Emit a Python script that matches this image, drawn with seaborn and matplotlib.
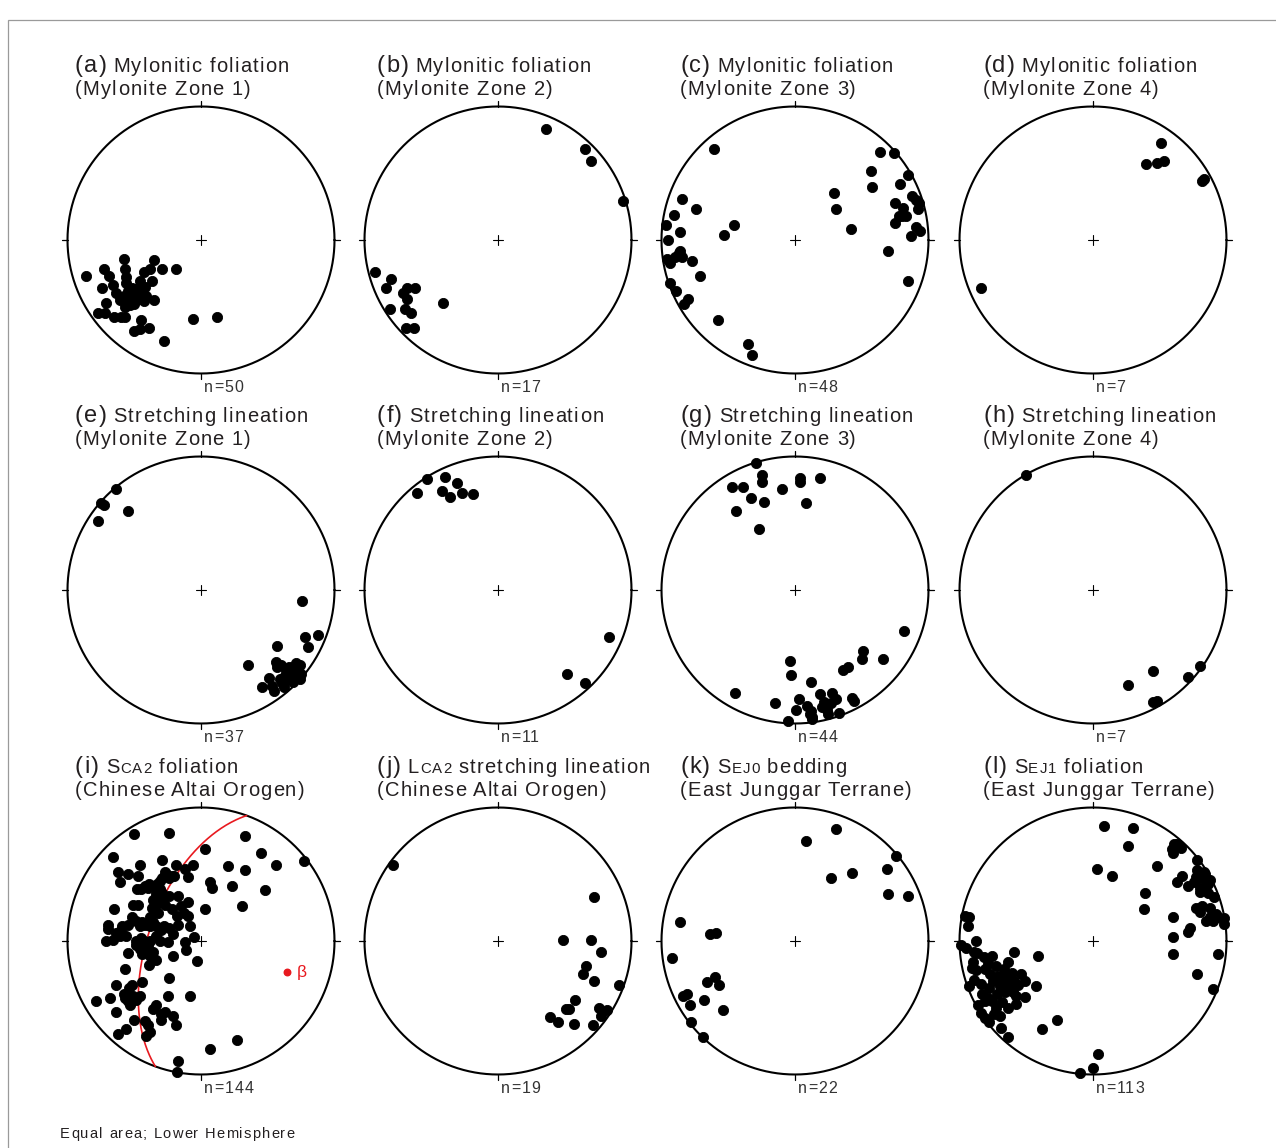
import numpy as np
import matplotlib
matplotlib.use("Agg")
import matplotlib.pyplot as plt
from matplotlib.patches import Rectangle
from matplotlib.font_manager import FontProperties
import seaborn as sns

sns.set_theme(style="white")
FAMILY = ["Liberation Sans", "DejaVu Sans"]
plt.rcParams["font.family"] = FAMILY

# Equal-area, lower-hemisphere projected positions (east, north), net radius = 100
pts_a = [(-58, -14), (-35, -15), (-73, -22), (-57, -22), (-29, -22), (-19, -22), (-86, -27),
         (-69, -27), (-43, -24), (-38, -22), (-56, -28), (-46, -31), (-56, -32), (-37, -31),
         (-66, -34), (-74, -36), (-42, -35), (-64, -40), (-44, -39), (-48, -39), (-52, -41),
         (-41, -42), (-35, -45), (-71, -47), (-61, -45), (-54, -44), (-51, -45), (-47, -44),
         (-53, -49), (-57, -50), (-50, -48), (-77, -55), (-72, -55), (-65, -58), (-60, -58),
         (-57, -58), (-45, -60), (-6, -59), (12, -58), (-50, -68), (-46, -67), (-39, -66),
         (-28, -76), (-49, -37), (-55, -38), (-45, -42), (-58, -42), (-50, -43), (-52, -36),
         (-43, -46)]
pts_b = [(36, 83), (65, 68), (70, 59), (94, 29), (-92, -24), (-80, -29), (-84, -36), (-68, -36),
         (-62, -36), (-71, -40), (-68, -44), (-41, -47), (-81, -52), (-70, -52), (-65, -55),
         (-69, -66), (-63, -66)]
pts_c = [(-61, 68), (64, 66), (74, 65), (57, 52), (85, 49), (58, 40), (79, 42), (29, 35),
         (88, 33), (91, 30), (93, 28), (75, 28), (81, 24), (92, 23), (31, 23), (80, 18), (83, 18),
         (78, 18), (75, 13), (91, 10), (94, 7), (87, 3), (42, 8), (70, -8), (85, -31), (-85, 31),
         (-74, 23), (-91, 19), (-97, 11), (-46, 11), (-53, 4), (-86, 6), (-95, 0), (-86, -8),
         (-90, -13), (-85, -13), (-96, -14), (-94, -17), (-77, -16), (-71, -27), (-94, -32),
         (-89, -38), (-80, -44), (-83, -48), (-58, -60), (-35, -78), (-32, -86), (-87, -10)]
pts_d = [(51, 73), (40, 57), (48, 58), (53, 59), (83, 46), (82, 44), (-84, -36)]

pts_e = [(-64, 76), (-75, 65), (-73, 64), (-55, 59), (-77, 52), (76, -8), (78, -35), (88, -34),
         (57, -42), (80, -43), (35, -56), (56, -54), (60, -56), (71, -55), (74, -56), (64, -60),
         (68, -60), (72, -61), (62, -65), (67, -65), (71, -65), (74, -67), (51, -66), (46, -73),
         (53, -72), (55, -76), (62, -73), (66, -67), (66, -58), (70, -63), (73, -59), (64, -63),
         (69, -69), (59, -67), (75, -63), (61, -70), (57, -58)]
pts_f = [(-53, 83), (-40, 85), (-31, 80), (-61, 73), (-42, 74), (-36, 70), (-27, 73), (-19, 72),
         (83, -35), (52, -63), (65, -70)]
pts_g = [(-29, 95), (-25, 86), (-25, 81), (4, 84), (4, 81), (19, 84), (-47, 77), (-39, 77),
         (-10, 76), (-33, 69), (-23, 66), (8, 65), (-44, 59), (-27, 46), (82, -31), (51, -46),
         (50, -52), (66, -52), (40, -58), (36, -60), (-4, -53), (-3, -64), (12, -69), (-45, -77),
         (19, -78), (28, -77), (3, -82), (22, -84), (27, -85), (31, -82), (43, -81), (44, -83),
         (-15, -85), (9, -87), (1, -90), (12, -91), (13, -95), (25, -93), (33, -92), (-5, -98),
         (13, -97), (20, -88), (11, -93), (24, -90)]
pts_h = [(-50, 86), (80, -57), (71, -65), (45, -61), (26, -71), (45, -84), (48, -83)]

pts_i = [(-50, 80), (-24, 81), (33, 79), (3, 69), (45, 66), (77, 60), (-66, 63), (-29, 61),
         (-46, 57), (-19, 57), (-6, 57), (-12, 54), (20, 56), (33, 53), (56, 57), (-62, 52),
         (-55, 50), (-47, 49), (-26, 50), (-22, 49), (-20, 49), (-10, 48), (-29, 47), (-31, 45),
         (-61, 44), (7, 44), (8, 40), (23, 41), (48, 38), (-39, 43), (-45, 39), (-48, 39),
         (-42, 41), (-35, 41), (-31, 39), (-34, 35), (-29, 36), (-24, 34), (-17, 34), (-36, 31),
         (-29, 30), (-33, 28), (-51, 27), (-47, 27), (-10, 29), (31, 26), (3, 24), (-65, 24),
         (-37, 25), (-22, 24), (-32, 21), (-13, 21), (-10, 19), (-52, 18), (-38, 18), (-18, 19),
         (-49, 15), (-70, 12), (-59, 11), (-55, 12), (-46, 11), (-42, 12), (-38, 11), (-34, 11),
         (-28, 11), (-24, 10), (-17, 12), (-8, 11), (-70, 9), (-64, 6), (-61, 4), (-56, 4),
         (-71, 0), (-66, 1), (-49, 0), (-49, -3), (-43, 0), (-38, 0), (-34, 4), (-31, 0),
         (-25, -1), (-21, 5), (-12, -1), (-5, 3), (-41, -8), (-44, -10), (-38, -11), (-55, -9),
         (-34, -14), (-39, -18), (-21, -11), (-11, -7), (-3, -15), (-57, -21), (-24, -28),
         (-44, -31), (-64, -33), (-54, -35), (-52, -33), (-68, -43), (-79, -45), (-57, -43),
         (-55, -45), (-53, -48), (-49, -44), (-46, -41), (-25, -41), (-8, -41), (-64, -53),
         (-36, -51), (-34, -48), (-27, -53), (-21, -56), (-50, -59), (-42, -60), (-30, -59),
         (-19, -63), (-56, -66), (-62, -70), (-41, -71), (-38, -68), (27, -74), (7, -81),
         (-17, -90), (-18, -98), (-27, 52), (-24, 47), (-33, 43), (-40, 40), (-30, 33),
         (-27, 27), (-44, 14), (-36, 14), (-30, 8), (-45, 2), (-40, -4), (-36, -8), (-46, -6),
         (-58, -40), (-51, -41), (-30, -55), (-40, -63), (-15, 26), (-60, 8)]
pts_j = [(-79, 57), (72, 33), (49, 1), (70, 1), (77, -8), (66, -19), (64, -25), (72, -30),
         (91, -33), (58, -44), (51, -51), (53, -51), (76, -50), (82, -52), (77, -56), (39, -57),
         (45, -61), (57, -62), (71, -63)]
pts_k = [(31, 84), (8, 75), (76, 64), (69, 54), (43, 51), (27, 47), (70, 35), (85, 34), (-86, 14),
         (-64, 5), (-59, 6), (-92, -13), (-60, -27), (-66, -31), (-57, -33), (-84, -41),
         (-81, -40), (-79, -48), (-68, -44), (-54, -52), (-78, -61), (-69, -72)]
pts_l = [(8, 86), (30, 85), (26, 71), (61, 73), (63, 73), (59, 69), (60, 66), (78, 61), (48, 56),
         (3, 54), (14, 49), (78, 53), (83, 52), (67, 49), (77, 48), (81, 47), (85, 46), (88, 46),
         (63, 44), (86, 43), (71, 41), (80, 40), (80, 37), (39, 36), (91, 33), (38, 24), (77, 25),
         (82, 26), (88, 25), (60, 18), (88, 18), (94, 18), (98, 17), (85, 15), (90, 15), (98, 13),
         (73, 10), (71, 7), (60, 3), (94, -10), (60, -10), (78, -25), (90, -36),
         (-96, 19), (-93, 18), (-94, 11), (-88, 0), (-99, -3), (-95, -5), (-89, -8), (-87, -9),
         (-76, -11), (-59, -8), (-41, -11), (-90, -16), (-91, -20), (-79, -17), (-73, -19),
         (-81, -21), (-64, -16), (-67, -21), (-61, -24), (-65, -26), (-71, -26), (-77, -25),
         (-54, -25), (-89, -29), (-93, -34), (-84, -32), (-75, -30), (-70, -34), (-63, -34),
         (-59, -30), (-51, -30), (-43, -34), (-66, -38), (-58, -41), (-51, -42), (-83, -40),
         (-79, -43), (-76, -45), (-81, -45), (-68, -46), (-64, -50), (-58, -47), (-84, -54),
         (-81, -58), (-78, -61), (-74, -55), (-70, -56), (-69, -65), (-64, -72), (-38, -66),
         (-27, -59), (4, -85), (0, -95), (-10, -99), (-72, -40), (-62, -30), (-86, -48),
         (-78, -35), (-68, -30), (-60, -38), (-73, -50), (-82, -12), (-88, -22), (-56, -33),
         (84, 50), (76, 44), (86, 36), (80, 22), (66, 70), (92, 20)]

# β axis (trend, plunge in degrees) for the π-girdle of panel (i)
beta_trend, beta_plunge = 110, 32

# Panel titles: runs of (text, size class, gap before in px) for line 1, then line 2
titles = {
    "a": ([("(a)", "L", 0), ("Mylonitic foliation", "M", 7)], "(Mylonite Zone 1)"),
    "b": ([("(b)", "L", 0), ("Mylonitic foliation", "M", 7)], "(Mylonite Zone 2)"),
    "c": ([("(c)", "L", 0), ("Mylonitic foliation", "M", 7)], "(Mylonite Zone 3)"),
    "d": ([("(d)", "L", 0), ("Mylonitic foliation", "M", 7)], "(Mylonite Zone 4)"),
    "e": ([("(e)", "L", 0), ("Stretching lineation", "M", 7)], "(Mylonite Zone 1)"),
    "f": ([("(f)", "L", 0), ("Stretching lineation", "M", 7)], "(Mylonite Zone 2)"),
    "g": ([("(g)", "L", 0), ("Stretching lineation", "M", 7)], "(Mylonite Zone 3)"),
    "h": ([("(h)", "L", 0), ("Stretching lineation", "M", 7)], "(Mylonite Zone 4)"),
    "i": ([("(i)", "L", 0), ("S", "M", 7), ("CA2", "S", 1), ("foliation", "M", 7)],
          "(Chinese Altai Orogen)"),
    "j": ([("(j)", "L", 0), ("L", "M", 7), ("CA2", "S", 1), ("stretching lineation", "M", 7)],
          "(Chinese Altai Orogen)"),
    "k": ([("(k)", "L", 0), ("S", "M", 7), ("EJ0", "S", 1), ("bedding", "M", 7)],
          "(East Junggar Terrane)"),
    "l": ([("(l)", "L", 0), ("S", "M", 7), ("EJ1", "S", 1), ("foliation", "M", 7)],
          "(East Junggar Terrane)"),
}
panel_data = {"a": pts_a, "b": pts_b, "c": pts_c, "d": pts_d,
              "e": pts_e, "f": pts_f, "g": pts_g, "h": pts_h,
              "i": pts_i, "j": pts_j, "k": pts_k, "l": pts_l}
panel_order = ["a", "b", "c", "d", "e", "f", "g", "h", "i", "j", "k", "l"]

# ---- layout (pixels) ----
W, H = 1276, 1148
col_cx = [201, 498, 795, 1093]
row_cy = [240, 590, 941]
title_x = [75, 377, 680, 983]
R_PX = 133.5
HALF = 150
TXT = "#231f20"
SIZES = {"L": 17.0, "M": 14.5, "S": 10.8}
TRACK = 1.2


def equal_area(trend_deg, plunge_deg):
    """Lower-hemisphere Schmidt projection, primitive radius = 100."""
    t = np.radians(trend_deg)
    p = np.radians(plunge_deg)
    r = 100 * np.sqrt(2) * np.sin((np.pi / 2 - p) / 2)
    return r * np.sin(t), r * np.cos(t)


def plane_trace(trend_deg, plunge_deg, n=200):
    """Great circle of the plane normal to the given axis."""
    t = np.radians(trend_deg)
    p = np.radians(plunge_deg)
    s = np.array([np.cos(t), -np.sin(t), 0.0])
    d = np.array([-np.sin(p) * np.sin(t), -np.sin(p) * np.cos(t), np.cos(p)])
    phi = np.linspace(0, np.pi, n)
    u = np.outer(np.cos(phi), s) + np.outer(np.sin(phi), d)
    horiz = np.hypot(u[:, 0], u[:, 1])
    r = 100 * np.sqrt(np.clip(1 - u[:, 2], 0, None))
    with np.errstate(invalid="ignore", divide="ignore"):
        x = np.where(horiz > 0, r * u[:, 0] / horiz, 0)
        y = np.where(horiz > 0, r * u[:, 1] / horiz, 0)
    return x, y


fig = plt.figure(figsize=(W / 100, H / 100), dpi=100)
fig.patch.set_facecolor("white")
fig.patches.append(Rectangle((8 / W, -0.05), 1.2, 1 - 20 / H + 0.05, transform=fig.transFigure,
                             fill=False, edgecolor="#9a9a9a", linewidth=0.9))
renderer = fig.canvas.get_renderer()


def ink_width(s, prop):
    return renderer.get_text_width_height_descent(s, prop, ismath=False)[0]


def tracked_text(x_px, y_px, s, size, track=TRACK, color=TXT):
    """Draw a string letter by letter with extra letter spacing; return the end x."""
    prop = FontProperties(family=FAMILY, size=size)
    for i, ch in enumerate(s):
        if ch == " ":
            continue
        xi = x_px + ink_width(s[:i + 1], prop) - ink_width(ch, prop) + i * track
        fig.text(xi / W, 1 - y_px / H, ch, fontproperties=prop, color=color,
                 ha="left", va="baseline")
    return x_px + ink_width(s, prop) + (len(s) - 1) * track


def runs_text(x_px, y_px, runs):
    x = x_px
    for s, cls, gap in runs:
        x = tracked_text(x + gap, y_px, s, SIZES[cls])


lim = HALF / R_PX * 100
theta = np.linspace(0, 2 * np.pi, 721)
for idx, key in enumerate(panel_order):
    row, col = divmod(idx, 4)
    cx, cy = col_cx[col], row_cy[row]
    ax = fig.add_axes([(cx - HALF) / W, 1 - (cy + HALF) / H, 2 * HALF / W, 2 * HALF / H])
    pts = np.array(panel_data[key], dtype=float)
    sns.scatterplot(x=pts[:, 0], y=pts[:, 1], ax=ax, color="black", s=54,
                    edgecolor="black", linewidth=0.6, legend=False, zorder=4)
    ax.plot(100 * np.cos(theta), 100 * np.sin(theta), color="black", lw=1.5, zorder=2)
    for ang in (0, 90, 180, 270):
        a = np.radians(ang)
        ax.plot([100 * np.cos(a), 104 * np.cos(a)], [100 * np.sin(a), 104 * np.sin(a)],
                color="black", lw=0.9)
    ax.plot([-3.5, 3.5], [0, 0], color="black", lw=0.8)
    ax.plot([0, 0], [-3.5, 3.5], color="black", lw=0.8)
    if key == "i":
        gx, gy = plane_trace(beta_trend, beta_plunge)
        ax.plot(gx, gy, color="#e8191f", lw=1.2, zorder=3)
        bx, by = equal_area(beta_trend, beta_plunge)
        ax.scatter([bx], [by], color="#e8191f", s=22, zorder=5)
        ax.text(bx + 7, by, "β", color="#e8191f", fontsize=12.5, va="center", ha="left")
    ax.set_xlim(-lim, lim)
    ax.set_ylim(-lim, lim)
    ax.axis("off")

    line1, line2 = titles[key]
    runs_text(title_x[col], cy - 168, line1)
    tracked_text(title_x[col], cy - 145, line2, SIZES["M"])
    tracked_text(cx + 3, cy + 152, f"n={len(panel_data[key])}", 11.5, track=1.1,
                 color="#333333")

tracked_text(60, 1138, "Equal area; Lower Hemisphere", 10.5, track=1.2)

fig.savefig("out.png", dpi=100, facecolor="white")
